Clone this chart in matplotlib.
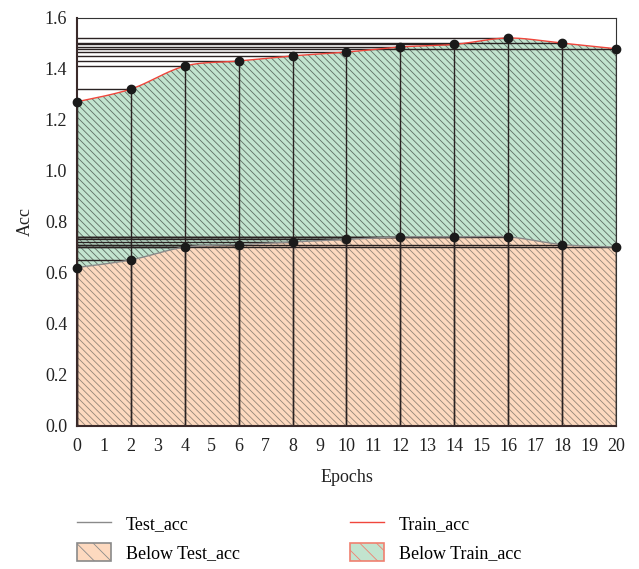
import numpy as np
import matplotlib.pyplot as plt
from matplotlib.lines import Line2D
from matplotlib.patches import Patch

epochs = [0, 2, 4, 6, 8, 10, 12, 14, 16, 18, 20]
test_acc = [0.62, 0.65, 0.70, 0.71, 0.72, 0.73, 0.74, 0.74, 0.74, 0.71, 0.70]
train_acc = [1.27, 1.32, 1.41, 1.43, 1.45, 1.465, 1.485, 1.495, 1.52, 1.50, 1.478]
y_ticks = [0.0, 0.2, 0.4, 0.6, 0.8, 1.0, 1.2, 1.4, 1.6]


def smooth(xs, ys, n=30, t=0.5):
    # cardinal spline through the points, only for drawing
    xs = np.asarray(xs, float)
    ys = np.asarray(ys, float)
    px = np.concatenate([[xs[0]], xs, [xs[-1]]])
    py = np.concatenate([[ys[0]], ys, [ys[-1]]])
    ox, oy = [], []
    for i in range(1, len(px) - 2):
        s = np.linspace(0, 1, n, endpoint=False)
        h1 = 2 * s**3 - 3 * s**2 + 1
        h2 = -2 * s**3 + 3 * s**2
        h3 = s**3 - 2 * s**2 + s
        h4 = s**3 - s**2
        for p, o in ((px, ox), (py, oy)):
            m1 = t * (p[i + 1] - p[i - 1])
            m2 = t * (p[i + 2] - p[i])
            o.extend(h1 * p[i] + h2 * p[i + 1] + h3 * m1 + h4 * m2)
    ox.append(xs[-1])
    oy.append(ys[-1])
    return np.array(ox), np.array(oy)


plt.rcParams['font.family'] = ['Liberation Serif', 'DejaVu Serif']
plt.rcParams['hatch.linewidth'] = 0.6

fig = plt.figure(figsize=(6.39, 5.69), dpi=100)
ax = fig.add_axes([0.1205, 0.252, 0.8435, 0.717])

green = '#c2e4cf'
orange = '#fdd9bf'
hatch = '\\' * 5

sx, sy = smooth(epochs, train_acc)
tx, ty = smooth(epochs, test_acc)

ax.fill_between(sx, 0, sy, facecolor=green, edgecolor='none', zorder=1)
ax.fill_between(sx, 0, sy, facecolor='none', edgecolor='#5f6e64', hatch=hatch, linewidth=0, zorder=1.1)
ax.fill_between(tx, 0, ty, facecolor=orange, edgecolor='none', zorder=1.2)
ax.fill_between(tx, 0, ty, facecolor='none', edgecolor='#958578', hatch=hatch, linewidth=0, zorder=1.3)

ax.plot(sx, sy, color='#f0463c', lw=1.0, zorder=3)
ax.plot(tx, ty, color='#8a8a8a', lw=1.0, zorder=3)

for series in (train_acc, test_acc):
    for x, y in zip(epochs, series):
        ax.plot([x, x], [0, y], color='#2a2222', lw=1.0, zorder=2)
        ax.plot([0, x], [y, y], color='#2a2222', lw=1.0, zorder=2)
    ax.plot(epochs, series, 'o', color='#1a1a1a', markersize=6, zorder=4, clip_on=False)

ax.set_xlim(0, 20)
ax.set_ylim(0, 1.6)
ax.set_xticks(range(0, 21))
ax.set_yticks(y_ticks)
ax.set_yticklabels([f'{v:.1f}' for v in y_ticks])
ax.tick_params(length=0, labelsize=13, colors='#222222')
ax.tick_params(axis='x', pad=9)
ax.tick_params(axis='y', pad=7)
ax.set_xlabel('Epochs', fontsize=13, labelpad=10, color='#222222')
ax.set_ylabel('Acc', fontsize=13, labelpad=8, color='#222222')
for side in ('left', 'bottom'):
    ax.spines[side].set_color('#3a2a2a')
    ax.spines[side].set_linewidth(1.5)
for side in ('top', 'right'):
    ax.spines[side].set_color('#333333')
    ax.spines[side].set_linewidth(0.8)

handles = [
    Line2D([], [], color='#8a8a8a', lw=1.0),
    Patch(facecolor=orange, edgecolor='#8a8a8a', hatch='\\\\', linewidth=1.2),
    Line2D([], [], color='#f0463c', lw=1.0),
    Patch(facecolor=green, edgecolor='#f08070', hatch='\\\\', linewidth=1.2),
]
labels = ['Test_acc', 'Below Test_acc', 'Train_acc', 'Below Train_acc']
fig.legend(handles, labels, ncol=2, frameon=False, fontsize=13,
           loc='upper left', bbox_to_anchor=(0.095, 0.125),
           handlelength=1.9, handleheight=1.2, columnspacing=6.1,
           labelspacing=0.5, handletextpad=0.8)

fig.savefig('out.png', dpi=100)
